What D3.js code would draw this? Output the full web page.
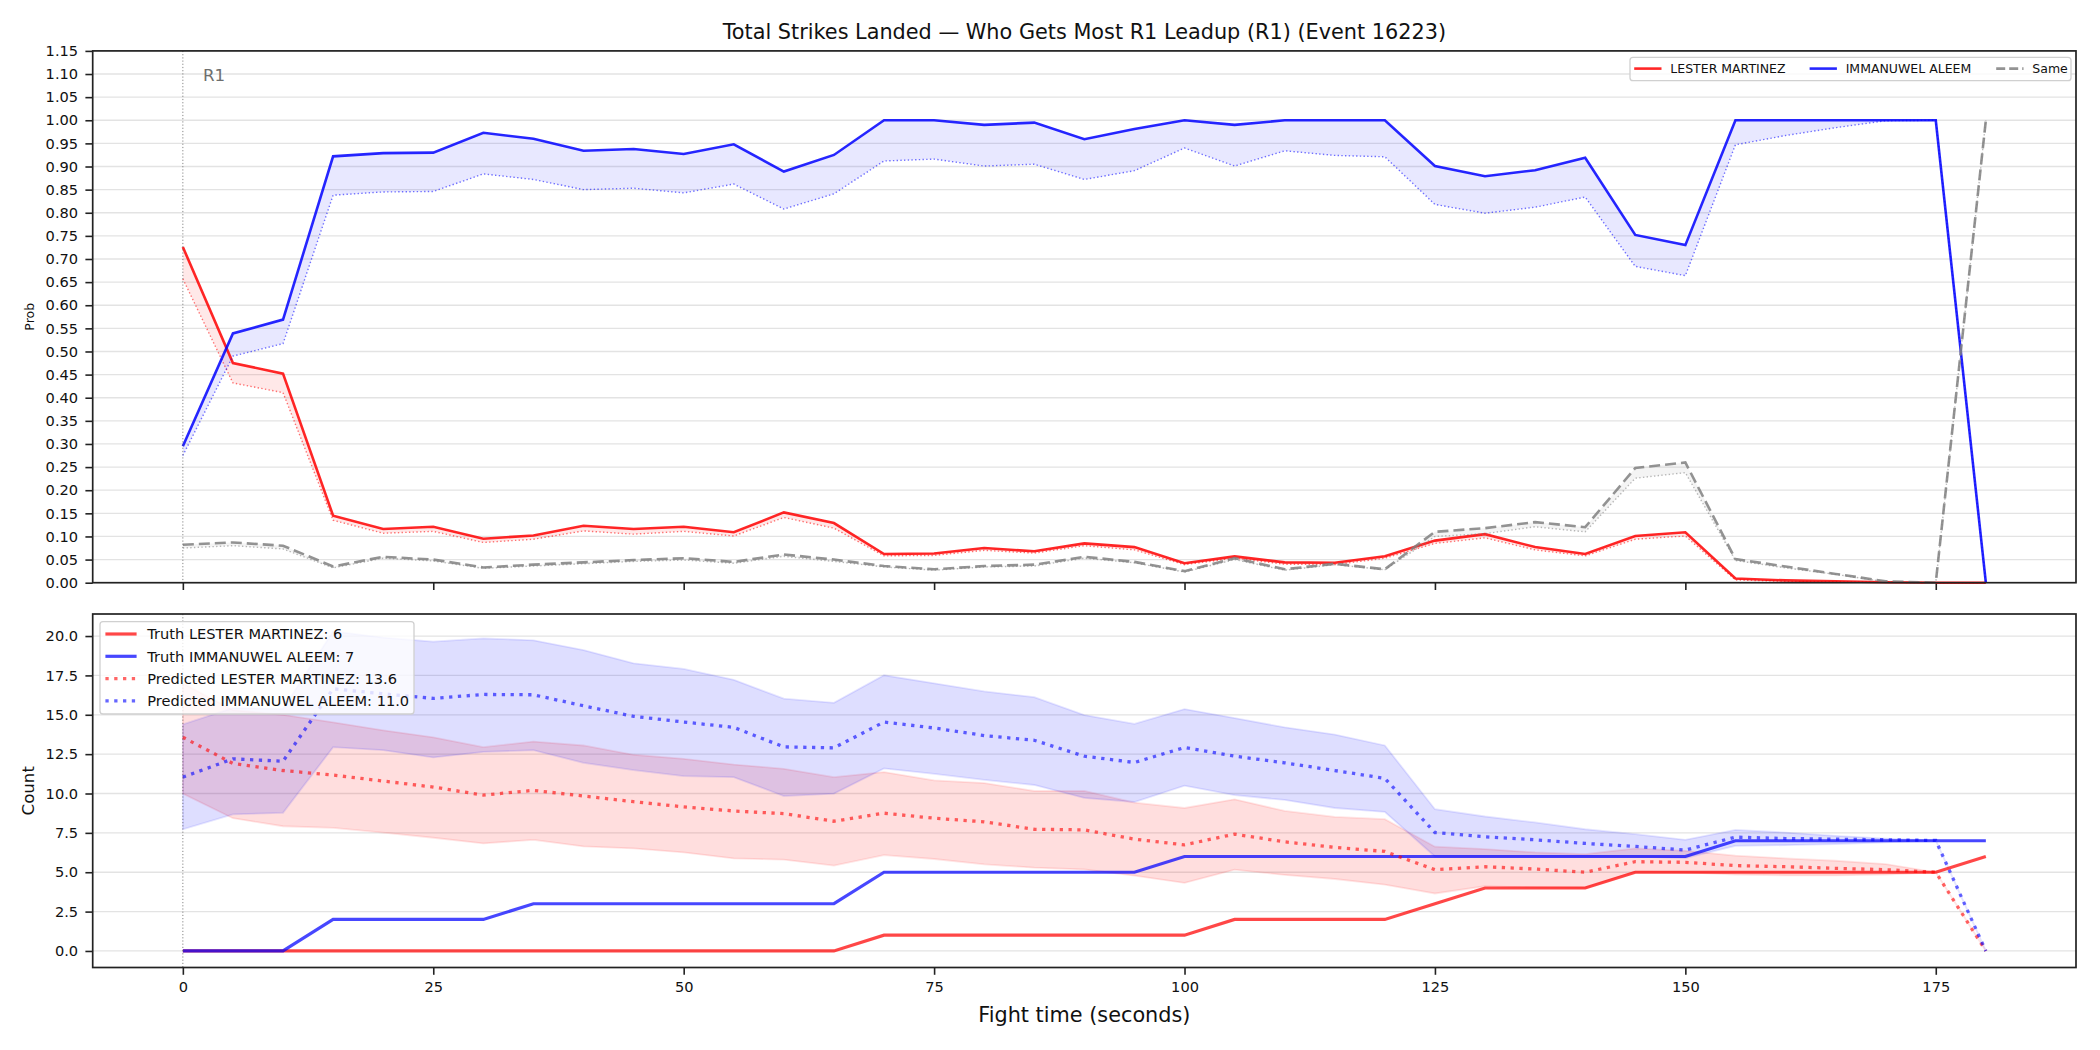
<!DOCTYPE html>
<html>
<head>
<meta charset="utf-8">
<script src="https://cdn.jsdelivr.net/npm/d3@7"></script>
<style>
  body { margin: 0; background: #fff; }
  svg { display: block; font-family: 'DejaVu Sans', sans-serif; }
</style>
</head>
<body>
<div id="chart"></div>
<script>
// Fight time samples (seconds)
const times = [0, 5, 10, 15, 20, 25, 30, 35, 40, 45, 50, 55, 60, 65, 70, 75, 80, 85, 90,
  95, 100, 105, 110, 115, 120, 125, 130, 135, 140, 145, 150, 155, 160, 165, 170, 175, 180];

// Top panel: probabilities (solid = market, dotted = model)
const probRed = [0.726, 0.475, 0.452, 0.145, 0.116, 0.121, 0.095, 0.102, 0.123, 0.116, 0.121, 0.109,
  0.152, 0.129, 0.062, 0.063, 0.075, 0.068, 0.085, 0.077, 0.042, 0.057, 0.044, 0.043, 0.057, 0.091,
  0.105, 0.077, 0.062, 0.101, 0.109, 0.009, 0.005, 0.003, 0.001, 0, 0];
const probRedDot = [0.657, 0.432, 0.411, 0.135, 0.107, 0.111, 0.087, 0.094, 0.112, 0.105, 0.111, 0.101,
  0.141, 0.118, 0.058, 0.059, 0.070, 0.064, 0.080, 0.071, 0.039, 0.053, 0.040, 0.039, 0.053, 0.085,
  0.097, 0.071, 0.058, 0.094, 0.101, 0.006, 0.003, 0.002, 0.001, 0, 0];
const probBlue = [0.295, 0.539, 0.569, 0.922, 0.929, 0.930, 0.973, 0.960, 0.934, 0.938, 0.927, 0.948,
  0.889, 0.925, 1.0, 1.0, 0.990, 0.995, 0.959, 0.981, 1.0, 0.990, 1.0, 1.0, 1.0, 0.901,
  0.879, 0.892, 0.919, 0.752, 0.730, 1.0, 1.0, 1.0, 1.0, 1.0, 0];
const probBlueDot = [0.275, 0.490, 0.517, 0.838, 0.845, 0.846, 0.884, 0.872, 0.850, 0.853, 0.843, 0.862,
  0.808, 0.841, 0.912, 0.916, 0.901, 0.905, 0.872, 0.891, 0.940, 0.901, 0.934, 0.924, 0.921, 0.818,
  0.799, 0.812, 0.834, 0.684, 0.664, 0.947, 0.967, 0.984, 0.999, 1.0, 0];
const probSame = [0.082, 0.087, 0.080, 0.035, 0.056, 0.050, 0.033, 0.039, 0.044, 0.049, 0.053, 0.045,
  0.061, 0.050, 0.036, 0.029, 0.036, 0.039, 0.056, 0.045, 0.025, 0.053, 0.029, 0.041, 0.029, 0.110,
  0.118, 0.131, 0.120, 0.248, 0.260, 0.051, 0.035, 0.019, 0.003, 0, 1.0];
const probSameDot = [0.075, 0.080, 0.073, 0.032, 0.053, 0.047, 0.031, 0.036, 0.041, 0.046, 0.049, 0.042,
  0.057, 0.046, 0.034, 0.027, 0.034, 0.036, 0.053, 0.043, 0.023, 0.050, 0.027, 0.039, 0.028, 0.100,
  0.106, 0.121, 0.110, 0.226, 0.238, 0.048, 0.032, 0.018, 0.002, 0, 1.0];

// Bottom panel: counts
const truthRed = [0, 0, 0, 0, 0, 0, 0, 0, 0, 0, 0, 0, 0, 0, 1, 1, 1, 1, 1, 1, 1, 2, 2, 2, 2, 3,
  4, 4, 4, 5, 5, 5, 5, 5, 5, 5, 6];
const truthBlue = [0, 0, 0, 2, 2, 2, 2, 3, 3, 3, 3, 3, 3, 3, 5, 5, 5, 5, 5, 5, 6, 6, 6, 6, 6, 6,
  6, 6, 6, 6, 6, 7, 7, 7, 7, 7, 7];
const predRed = [13.57, 11.91, 11.46, 11.17, 10.79, 10.41, 9.90, 10.20, 9.84, 9.48, 9.15, 8.89, 8.72,
  8.24, 8.75, 8.43, 8.20, 7.73, 7.69, 7.10, 6.74, 7.42, 6.93, 6.58, 6.32, 5.16, 5.35, 5.20, 5.00,
  5.67, 5.63, 5.42, 5.35, 5.25, 5.16, 5.00, 0];
const predRedHi = [17.0, 15.3, 15.0, 14.52, 14.01, 13.57, 12.94, 13.3, 13.05, 12.46, 12.2, 11.84, 11.57,
  11.04, 11.36, 10.83, 10.66, 10.16, 10.16, 9.42, 9.08, 9.63, 8.89, 8.51, 8.37, 6.62, 6.47, 6.26, 6.15,
  6.51, 6.36, 6.05, 5.88, 5.73, 5.52, 5.0, 0];
const predRedLo = [9.99, 8.43, 7.92, 7.82, 7.52, 7.19, 6.83, 7.06, 6.64, 6.51, 6.26, 5.88, 5.80,
  5.42, 6.09, 5.84, 5.50, 5.29, 5.18, 4.78, 4.32, 5.16, 4.83, 4.57, 4.21, 3.65, 4.11, 4.03, 4.0,
  5.04, 5.0, 4.85, 4.8, 4.8, 4.85, 5.0, 0];
const predBlue = [11.04, 12.2, 12.05, 16.65, 16.33, 16.04, 16.29, 16.27, 15.57, 14.9, 14.54, 14.2, 12.96,
  12.9, 14.54, 14.16, 13.68, 13.38, 12.37, 11.97, 12.92, 12.37, 11.95, 11.46, 10.96, 7.52, 7.25, 7.06,
  6.83, 6.64, 6.41, 7.23, 7.14, 7.10, 7.06, 7.02, 0];
const predBlueHi = [14.39, 15.43, 15.38, 20.3, 19.9, 19.64, 19.85, 19.73, 19.11, 18.27, 17.91, 17.22, 16.02,
  15.76, 17.51, 17.0, 16.48, 16.12, 14.98, 14.42, 15.36, 14.79, 14.2, 13.74, 13.05, 9.0, 8.54, 8.16,
  7.73, 7.42, 7.06, 7.69, 7.52, 7.31, 7.14, 7.02, 0];
const predBlueLo = [7.73, 8.68, 8.77, 12.94, 12.75, 12.29, 12.64, 12.75, 11.95, 11.49, 11.11, 11.04, 9.84,
  9.99, 11.59, 11.25, 10.87, 10.54, 9.72, 9.46, 10.5, 9.9, 9.59, 9.08, 8.83, 6.0, 6.0, 6.0,
  6.0, 6.0, 5.9, 6.68, 6.72, 6.79, 6.9, 7.02, 0];

// Ticks and labels
const timeTicks = [0, 25, 50, 75, 100, 125, 150, 175];
const probTicks = [0, 0.05, 0.10, 0.15, 0.20, 0.25, 0.30, 0.35, 0.40, 0.45, 0.50, 0.55, 0.60,
  0.65, 0.70, 0.75, 0.80, 0.85, 0.90, 0.95, 1.00, 1.05, 1.10, 1.15];
const countTicks = [0, 2.5, 5, 7.5, 10, 12.5, 15, 17.5, 20];
const fighters = ['LESTER MARTINEZ', 'IMMANUWEL ALEEM'];
const title = 'Total Strikes Landed \u2014 Who Gets Most R1 Leadup (R1) (Event 16223)';

const RED = '#ff0000';
const BLUE = '#0000ff';
const GRAY = '#808080';
const TICK_FONT = 14.6;

const width = 2100;
const height = 1050;
const left = 92.7;
const right = 2076;
const topBox = { top: 50.9, bottom: 582.7 };
const botBox = { top: 614, bottom: 967.5 };

const svg = d3.select('#chart').append('svg')
  .attr('width', width)
  .attr('height', height);

const x = d3.scaleLinear().domain([-9, 189]).range([left, right]);
const yProb = d3.scaleLinear().domain([0, 1.15]).range([topBox.bottom, topBox.top]);
const yCount = d3.scaleLinear().domain([-1.05, 21.4]).range([botBox.bottom, botBox.top]);

/**
 * Draw horizontal grid, y axis and x axis of one panel
 */
function drawAxes(box, yScale, yTicks, yFormat, showXLabels) {
  const grid = svg.append('g');
  grid.selectAll('line')
    .data(yTicks)
    .join('line')
    .attr('x1', left)
    .attr('x2', right)
    .attr('y1', d => yScale(d))
    .attr('y2', d => yScale(d))
    .attr('stroke', '#e3e3e3')
    .attr('stroke-width', 1.3);

  const yAxis = svg.append('g')
    .attr('transform', `translate(${left},0)`)
    .call(d3.axisLeft(yScale).tickValues(yTicks).tickFormat(yFormat)
      .tickSize(7.3).tickPadding(7.3));

  const xAxis = svg.append('g')
    .attr('transform', `translate(0,${box.bottom})`)
    .call(d3.axisBottom(x).tickValues(timeTicks)
      .tickFormat(showXLabels ? d3.format('d') : () => '')
      .tickSize(7.3).tickPadding(7.3));

  [yAxis, xAxis].forEach(ax => {
    ax.select('.domain').remove();
    ax.selectAll('line').attr('stroke', '#222').attr('stroke-width', 1.6);
    ax.selectAll('text')
      .attr('fill', '#111')
      .attr('font-size', TICK_FONT)
      .attr('font-family', 'DejaVu Sans');
  });
  return grid;
}

function lineGen(yScale) {
  return d3.line().x((d, i) => x(times[i])).y(d => yScale(d));
}

function bandGen(yScale, lo, hi) {
  return d3.area()
    .x((d, i) => x(times[i]))
    .y0((d, i) => yScale(lo[i]))
    .y1((d, i) => yScale(hi[i]));
}

// ---------- Top panel ----------
drawAxes(topBox, yProb, probTicks, d3.format('.2f'), false);

const topSeries = [
  { solid: probRed, dot: probRedDot, color: RED, dash: null },
  { solid: probBlue, dot: probBlueDot, color: BLUE, dash: null },
  { solid: probSame, dot: probSameDot, color: GRAY, dash: '11,5' }
];

topSeries.forEach(s => {
  svg.append('path')
    .datum(times)
    .attr('d', bandGen(yProb, s.dot, s.solid))
    .attr('fill', s.color)
    .attr('fill-opacity', 0.09);
});

topSeries.forEach(s => {
  svg.append('path')
    .datum(s.dot)
    .attr('d', lineGen(yProb))
    .attr('fill', 'none')
    .attr('stroke', s.color)
    .attr('stroke-opacity', 0.55)
    .attr('stroke-width', 1.4)
    .attr('stroke-dasharray', '1.4,2.3');
  svg.append('path')
    .datum(s.solid)
    .attr('d', lineGen(yProb))
    .attr('fill', 'none')
    .attr('stroke', s.color)
    .attr('stroke-opacity', 0.85)
    .attr('stroke-width', 2.6)
    .attr('stroke-dasharray', s.dash);
});

// Round marker
svg.append('line')
  .attr('x1', x(0)).attr('x2', x(0))
  .attr('y1', topBox.top).attr('y2', topBox.bottom)
  .attr('stroke', '#555')
  .attr('stroke-opacity', 0.7)
  .attr('stroke-width', 1)
  .attr('stroke-dasharray', '1.2,2');

svg.append('text')
  .attr('x', x(2))
  .attr('y', 81)
  .attr('fill', '#6e6e6e')
  .attr('font-size', 16.7)
  .text('R1');

// ---------- Bottom panel ----------
drawAxes(botBox, yCount, countTicks, d3.format('.1f'), true);

const bands = [
  { lo: predRedLo, hi: predRedHi, color: RED },
  { lo: predBlueLo, hi: predBlueHi, color: BLUE }
];
bands.forEach(b => {
  svg.append('path')
    .datum(times)
    .attr('d', bandGen(yCount, b.lo, b.hi))
    .attr('fill', b.color)
    .attr('fill-opacity', 0.13)
    .attr('stroke', b.color)
    .attr('stroke-opacity', 0.1)
    .attr('stroke-width', 1.8);
});

[{ data: truthRed, color: RED }, { data: truthBlue, color: BLUE }].forEach(s => {
  svg.append('path')
    .datum(s.data)
    .attr('d', lineGen(yCount))
    .attr('fill', 'none')
    .attr('stroke', s.color)
    .attr('stroke-opacity', 0.72)
    .attr('stroke-width', 3.2);
});

[{ data: predRed, color: RED }, { data: predBlue, color: BLUE }].forEach(s => {
  svg.append('path')
    .datum(s.data)
    .attr('d', lineGen(yCount))
    .attr('fill', 'none')
    .attr('stroke', s.color)
    .attr('stroke-opacity', 0.6)
    .attr('stroke-width', 3.3)
    .attr('stroke-dasharray', '3.3,5.5');
});

svg.append('line')
  .attr('x1', x(0)).attr('x2', x(0))
  .attr('y1', botBox.top).attr('y2', botBox.bottom)
  .attr('stroke', '#555')
  .attr('stroke-opacity', 0.7)
  .attr('stroke-width', 1)
  .attr('stroke-dasharray', '1.2,2');

// ---------- Spines ----------
[topBox, botBox].forEach(box => {
  svg.append('rect')
    .attr('x', left)
    .attr('y', box.top)
    .attr('width', right - left)
    .attr('height', box.bottom - box.top)
    .attr('fill', 'none')
    .attr('stroke', '#222')
    .attr('stroke-width', 1.7);
});

// ---------- Texts ----------
svg.append('text')
  .attr('x', (left + right) / 2)
  .attr('y', 38.5)
  .attr('text-anchor', 'middle')
  .attr('font-size', 20.8)
  .attr('fill', '#111')
  .text(title);

svg.append('text')
  .attr('transform', `translate(34.3,${(topBox.top + topBox.bottom) / 2}) rotate(-90)`)
  .attr('text-anchor', 'middle')
  .attr('font-size', 12.5)
  .attr('fill', '#111')
  .text('Prob');

svg.append('text')
  .attr('transform', `translate(33.5,${(botBox.top + botBox.bottom) / 2}) rotate(-90)`)
  .attr('text-anchor', 'middle')
  .attr('font-size', 16.6)
  .attr('fill', '#111')
  .text('Count');

svg.append('text')
  .attr('x', (left + right) / 2)
  .attr('y', 1021.5)
  .attr('text-anchor', 'middle')
  .attr('font-size', 20.8)
  .attr('fill', '#111')
  .text('Fight time (seconds)');

// ---------- Legends ----------
const topLegend = svg.append('g');
topLegend.append('rect')
  .attr('x', 1630).attr('y', 57.3)
  .attr('width', 441).attr('height', 23.4)
  .attr('rx', 3)
  .attr('fill', 'rgba(255,255,255,0.8)')
  .attr('stroke', '#d0d0d0')
  .attr('stroke-width', 1.3);

const topItems = [
  { label: fighters[0], color: RED, x0: 1634.2, tx: 1670.3, dash: null },
  { label: fighters[1], color: BLUE, x0: 1809.6, tx: 1845.7, dash: null },
  { label: 'Same', color: GRAY, x0: 1996.2, tx: 2032.3, dash: '9,4' }
];
topItems.forEach(it => {
  topLegend.append('line')
    .attr('x1', it.x0).attr('x2', it.x0 + 27.3)
    .attr('y1', 68.6).attr('y2', 68.6)
    .attr('stroke', it.color)
    .attr('stroke-opacity', 0.85)
    .attr('stroke-width', 2.6)
    .attr('stroke-dasharray', it.dash);
  topLegend.append('text')
    .attr('x', it.tx).attr('y', 68.6)
    .attr('dy', '0.36em')
    .attr('font-size', 12.5)
    .attr('fill', '#111')
    .text(it.label);
});

const botLegend = svg.append('g');
botLegend.append('rect')
  .attr('x', 100).attr('y', 621.6)
  .attr('width', 314).attr('height', 92.4)
  .attr('rx', 3)
  .attr('fill', 'rgba(255,255,255,0.8)')
  .attr('stroke', '#d0d0d0')
  .attr('stroke-width', 1.3);

const botItems = [
  { label: `Truth ${fighters[0]}: ${truthRed[truthRed.length - 1]}`, color: RED, dotted: false },
  { label: `Truth ${fighters[1]}: ${truthBlue[truthBlue.length - 1]}`, color: BLUE, dotted: false },
  { label: `Predicted ${fighters[0]}: ${predRed[0].toFixed(1)}`, color: RED, dotted: true },
  { label: `Predicted ${fighters[1]}: ${predBlue[0].toFixed(1)}`, color: BLUE, dotted: true }
];
botItems.forEach((it, i) => {
  const cy = 634 + i * 22.3;
  botLegend.append('line')
    .attr('x1', 105.4).attr('x2', 136.6)
    .attr('y1', cy).attr('y2', cy)
    .attr('stroke', it.color)
    .attr('stroke-opacity', it.dotted ? 0.6 : 0.72)
    .attr('stroke-width', it.dotted ? 3.3 : 3.2)
    .attr('stroke-dasharray', it.dotted ? '3.3,5.5' : null);
  botLegend.append('text')
    .attr('x', 147.3).attr('y', cy)
    .attr('dy', '0.36em')
    .attr('font-size', TICK_FONT)
    .attr('fill', '#111')
    .text(it.label);
});
</script>
</body>
</html>
